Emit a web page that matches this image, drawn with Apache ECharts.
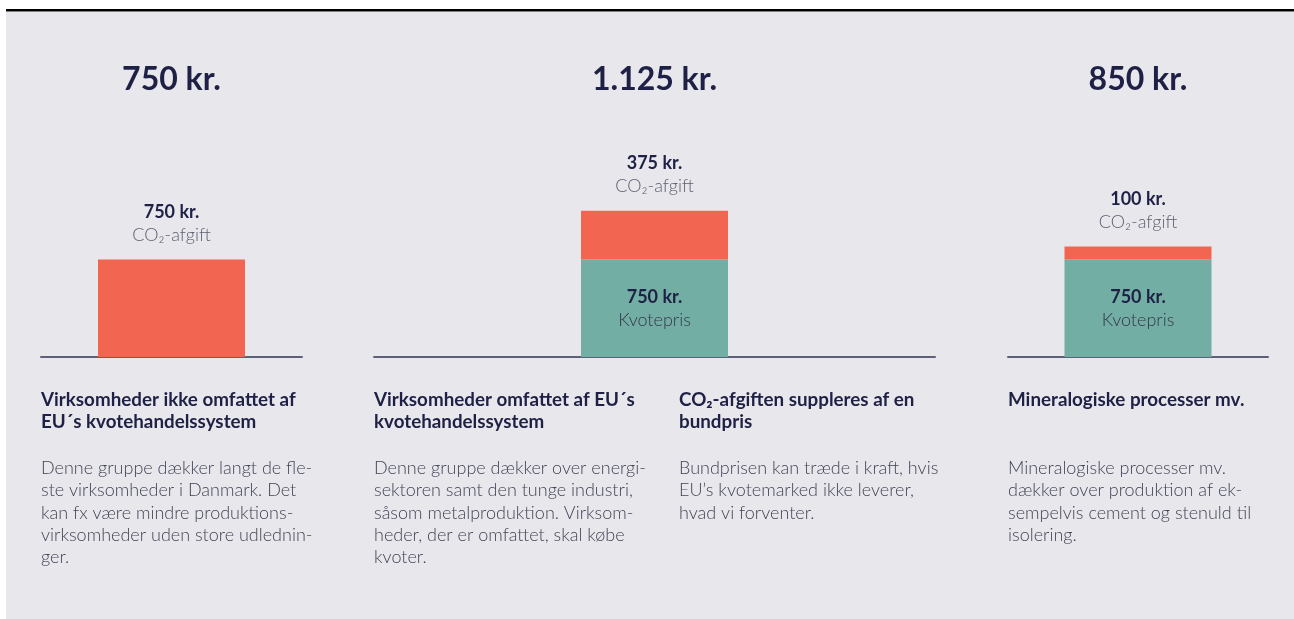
<!DOCTYPE html>
<html>
<head>
<meta charset="utf-8">
<script src="https://cdn.jsdelivr.net/npm/echarts@6/dist/echarts.min.js"></script>
<style>
  html, body { margin: 0; padding: 0; background: #fff; }
  #chart { width: 1294px; height: 619px; }
</style>
</head>
<body>
<div id="chart"></div>
<script>
// data
const kvotepris = [0, 750, 750]
const afgift = [750, 375, 100]
const afgiftLabel = 'CO₂-afgift'
const kvoteLabel = 'Kvotepris'

const headings = [
  'Virksomheder ikke omfattet af\nEU´s kvotehandelssystem',
  'Virksomheder omfattet af EU´s\nkvotehandelssystem',
  'CO₂-afgiften suppleres af en\nbundpris',
  'Mineralogiske processer mv.'
]
const bodies = [
  'Denne gruppe dækker langt de fle-\nste virksomheder i Danmark. Det\nkan fx være mindre produktions-\nvirksomheder uden store udlednin-\nger.',
  'Denne gruppe dækker over energi-\nsektoren samt den tunge industri,\nsåsom metalproduktion. Virksom-\nheder, der er omfattet, skal købe\nkvoter.',
  'Bundprisen kan træde i kraft, hvis\nEU’s kvotemarked ikke leverer,\nhvad vi forventer.',
  'Mineralogiske processer mv.\ndækker over produktion af ek-\nsempelvis cement og stenuld til\nisolering.'
]
const textX = [41, 374, 679, 1008]

// panel layout
const panels = [
  { left: 41, width: 261 },
  { left: 374, width: 561 },
  { left: 1008, width: 260 }
]

const navy = '#1e2045'
const grey = '#424457'
const red = '#f26651'
const teal = '#73aea4'

const fmt = (v) => String(v).replace(/\B(?=(\d{3})+(?!\d))/g, '.') + ' kr.'

const chart = echarts.init(document.getElementById('chart'))

const grid = panels.map(p => ({ left: p.left, width: p.width, top: 162, bottom: 262 }))
const xAxis = panels.map((p, i) => ({
  type: 'category', gridIndex: i, data: [''],
  axisLine: { lineStyle: { color: '#5d6078', width: 2 } },
  axisTick: { show: false }, axisLabel: { show: false }
}))
const yAxis = panels.map((p, i) => ({
  type: 'value', gridIndex: i, min: 0, max: 1500, show: false, splitLine: { show: false }
}))

const rich = {
  v: { fontFamily: 'Lato', fontSize: 18, fontWeight: 'bold', color: navy, lineHeight: 23 },
  n: { fontFamily: 'Lato', fontSize: 18, fontWeight: 300, color: '#5e6073', lineHeight: 23 },
  k: { fontFamily: 'Lato', fontSize: 18, fontWeight: 300, color: '#34374a', lineHeight: 23 }
}

const series = []
panels.forEach((p, i) => {
  series.push({
    type: 'bar', name: kvoteLabel, xAxisIndex: i, yAxisIndex: i, stack: 's' + i,
    data: [kvotepris[i]], barWidth: 147, itemStyle: { color: teal },
    label: {
      show: kvotepris[i] > 0, position: 'inside', rich,
      formatter: (d) => '{v|' + fmt(d.value) + '}\n{k|' + kvoteLabel + '}'
    },
    silent: true
  })
  series.push({
    type: 'bar', name: afgiftLabel, xAxisIndex: i, yAxisIndex: i, stack: 's' + i,
    data: [afgift[i]], barWidth: 147, itemStyle: { color: red },
    label: {
      show: true, position: 'top', distance: 13, rich,
      formatter: (d) => '{v|' + fmt(d.value) + '}\n{n|' + afgiftLabel + '}'
    },
    silent: true
  })
})

const title = panels.map((p, i) => ({
  text: fmt(kvotepris[i] + afgift[i]),
  left: p.left + p.width / 2, top: 64, textAlign: 'center', padding: 0,
  textStyle: { fontFamily: 'Lato', fontSize: 32, fontWeight: 'bold', color: navy }
}))

const graphic = [
  { type: 'rect', z: -10, shape: { x: 6, y: 12, width: 1288, height: 607 }, style: { fill: '#e8e7ec' } },
  { type: 'rect', z: -10, shape: { x: 6, y: 9, width: 1288, height: 2.5 }, style: { fill: '#000' } }
]
headings.forEach((t, i) => {
  graphic.push({
    type: 'text', left: textX[i], top: 389,
    style: { text: t, font: 'bold 18.8px Lato', fill: navy, lineHeight: 22 }
  })
})
bodies.forEach((t, i) => {
  graphic.push({
    type: 'text', left: textX[i], top: 457,
    style: { text: t, font: '300 18px Lato', fill: grey, lineHeight: 22.3 }
  })
})

chart.setOption({
  animation: false,
  backgroundColor: '#fff',
  title, grid, xAxis, yAxis, series, graphic
})
</script>
</body>
</html>
